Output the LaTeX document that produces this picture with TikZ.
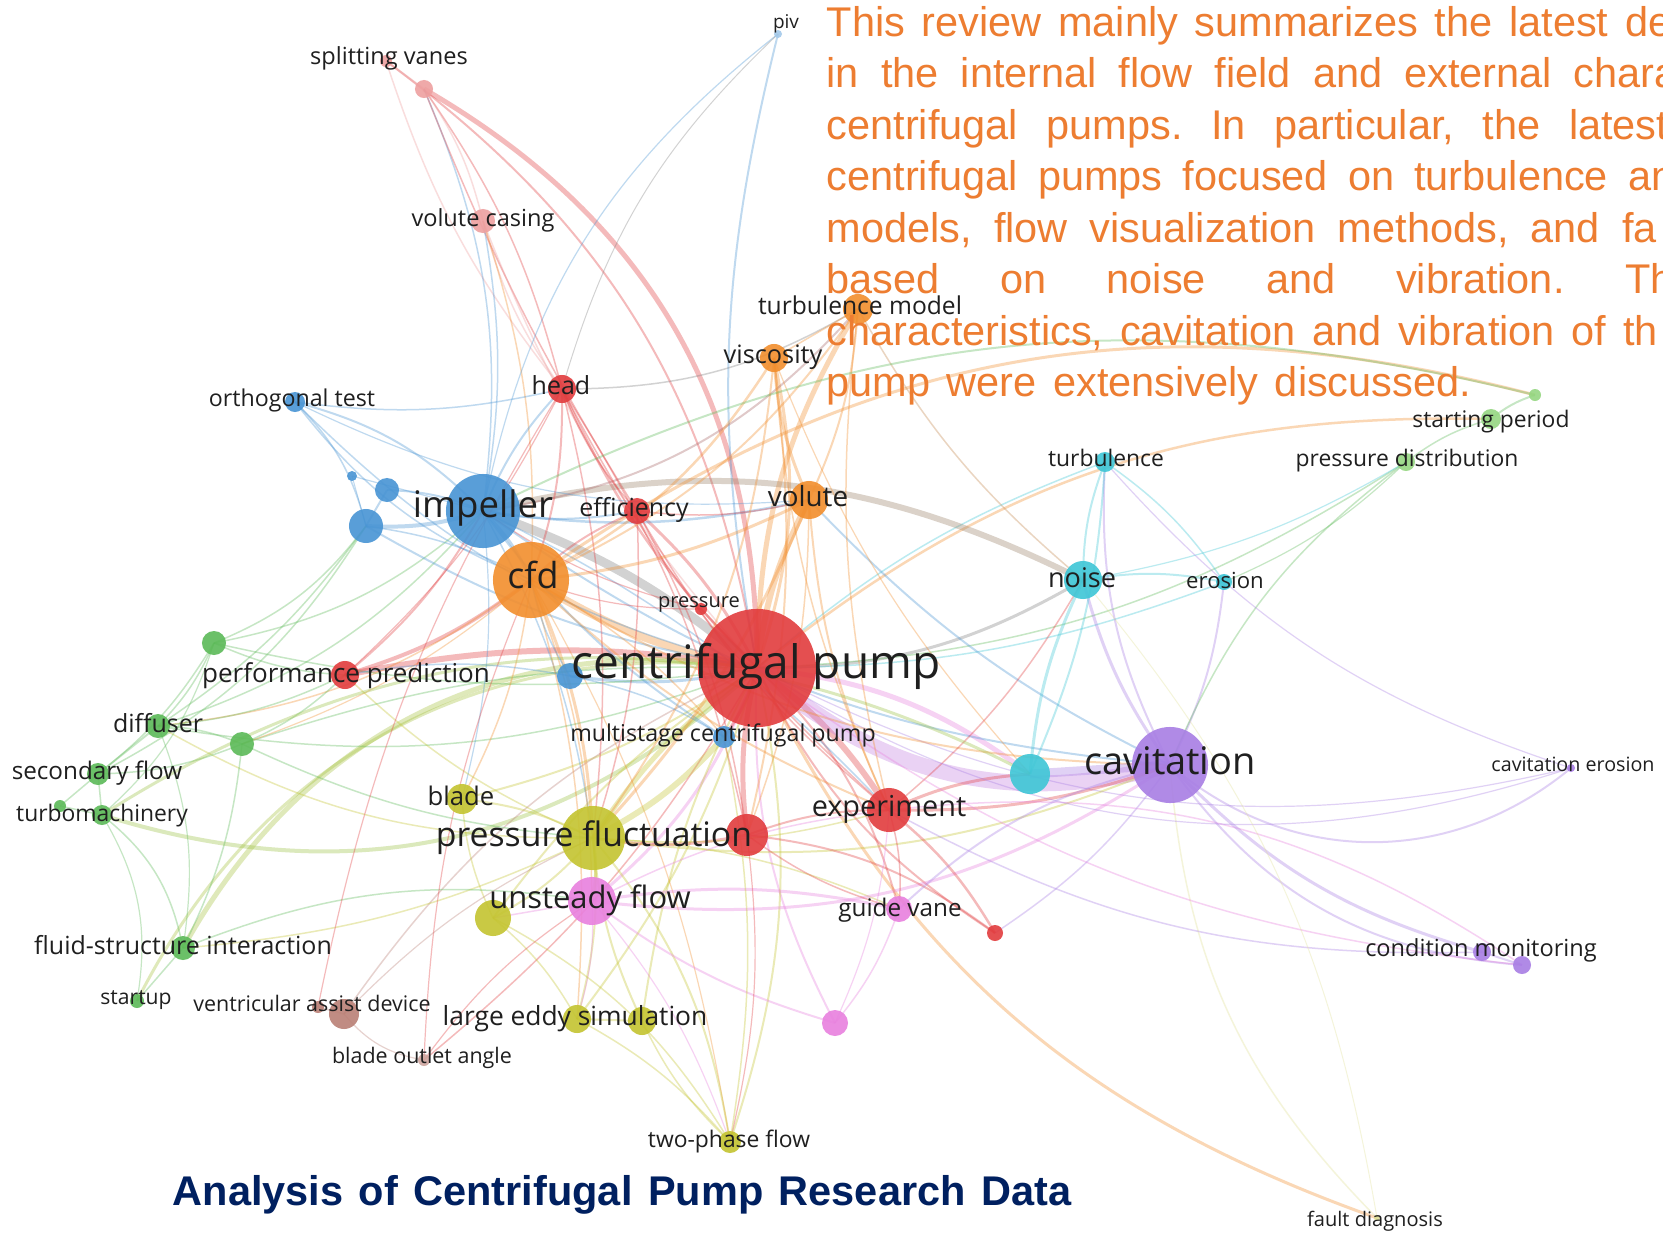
\documentclass[tikz,border=0pt]{standalone}
\usepackage{fontspec}
\setmainfont{Open Sans}
\newfontfamily\arialfam{Liberation Sans}

\pgfdeclarelayer{paper}
\pgfdeclarelayer{edges}
\pgfsetlayers{paper,edges,main}

\definecolor{kred}{RGB}{226,60,62}
\definecolor{kblue}{RGB}{72,148,212}
\definecolor{korange}{RGB}{242,142,45}
\definecolor{kgreen}{RGB}{92,186,88}
\definecolor{kyellow}{RGB}{196,196,48}
\definecolor{kpink}{RGB}{232,128,222}
\definecolor{kcyan}{RGB}{62,198,214}
\definecolor{kpurple}{RGB}{168,126,228}
\definecolor{krose}{RGB}{238,160,160}
\definecolor{kbrown}{RGB}{186,128,118}
\definecolor{klgreen}{RGB}{150,215,130}
\definecolor{textorange}{RGB}{237,125,49}
\definecolor{titleblue}{RGB}{0,32,96}

\tikzset{
	kwdot/.style 2 args={circle, inner sep=0pt, fill=#1, fill opacity=.9, minimum size=#2*0.02cm},
	kwlab/.style={anchor=base, inner sep=0pt, text=black!88, font=\fontsize{#1}{#1}\selectfont},
	absline/.style={anchor=base west, inner sep=0pt, text=textorange, font=\arialfam\fontsize{11.8}{14}\selectfont}
}

\begin{document}
\begin{tikzpicture}[x=0.01cm, y=-0.01cm]
	
	\begin{pgfonlayer}{paper}
		\fill[white] (0,0) rectangle (1663,1233);
	\end{pgfonlayer}
	\useasboundingbox (0,0) rectangle (1663,1233);
	\clip (0,0) rectangle (1663,1233);
	
	% keyword circles
	\node[kwdot={kred}{59}] (cp) at (757,668) {};
	\node[kwdot={kpurple}{38}] (cav) at (1170,765) {};
	\node[kwdot={kblue}{37}] (imp) at (483,511) {};
	\node[kwdot={korange}{38}] (cfd) at (531,580) {};
	\node[kwdot={kyellow}{32}] (pf) at (593,838) {};
	\node[kwdot={kpink}{24}] (uf) at (592,901) {};
	\node[kwdot={kred}{22}] (exp) at (889,810) {};
	\node[kwdot={kcyan}{19}] (nz) at (1083,580) {};
	\node[kwdot={kcyan}{20}] (cyn) at (1030,774) {};
	\node[kwdot={korange}{19}] (vol) at (809,500) {};
	\node[kwdot={korange}{14}] (vis) at (774,358) {};
	\node[kwdot={korange}{15}] (tm) at (858,309) {};
	\node[kwdot={kred}{14}] (hd) at (562,389) {};
	\node[kwdot={kred}{13}] (eff) at (637,511) {};
	\node[kwdot={kred}{6}] (prs) at (701,609) {};
	\node[kwdot={kred}{14}] (pp) at (345,675) {};
	\node[kwdot={kred}{21}] (rd1) at (747,835) {};
	\node[kwdot={kred}{8}] (rd2) at (995,933) {};
	\node[kwdot={kblue}{11}] (msp) at (724,737) {};
	\node[kwdot={kblue}{13}] (bu1) at (570,676) {};
	\node[kwdot={kblue}{17}] (bu2) at (366,526) {};
	\node[kwdot={kblue}{12}] (bu3) at (387,490) {};
	\node[kwdot={kblue}{5}] (bu4) at (352,476) {};
	\node[kwdot={kblue}{10}] (ot) at (295,402) {};
	\node[kwdot={kblue!50}{4}] (piv) at (778,34) {};
	\node[kwdot={krose}{6}] (sv) at (386,61) {};
	\node[kwdot={krose}{9}] (sv2) at (424,89) {};
	\node[kwdot={krose}{12}] (vc) at (483,221) {};
	\node[kwdot={kgreen}{12}] (gn1) at (214,643) {};
	\node[kwdot={kgreen}{12}] (dif) at (158,726) {};
	\node[kwdot={kgreen}{12}] (gn2) at (242,744) {};
	\node[kwdot={kgreen}{11}] (sf) at (98,774) {};
	\node[kwdot={kgreen}{10}] (tmc) at (102,815) {};
	\node[kwdot={kgreen}{6}] (gn3) at (60,806) {};
	\node[kwdot={kgreen}{12}] (fsi) at (183,948) {};
	\node[kwdot={kgreen}{7}] (su) at (137,1001) {};
	\node[kwdot={klgreen}{10}] (sp) at (1491,419) {};
	\node[kwdot={klgreen}{6}] (sp2) at (1535,395) {};
	\node[kwdot={klgreen}{9}] (pd) at (1406,462) {};
	\node[kwdot={kyellow}{15}] (blade) at (462,799) {};
	\node[kwdot={kyellow}{18}] (ye1) at (493,918) {};
	\node[kwdot={kyellow}{14}] (les1) at (577,1019) {};
	\node[kwdot={kyellow}{14}] (les2) at (642,1021) {};
	\node[kwdot={kyellow}{11}] (tpf) at (730,1142) {};
	\node[kwdot={kbrown}{15}] (vad) at (344,1014) {};
	\node[kwdot={kbrown}{6}] (vad2) at (318,1007) {};
	\node[kwdot={kbrown!70}{6}] (boa) at (424,1060) {};
	\node[kwdot={kpink}{13}] (gv) at (899,909) {};
	\node[kwdot={kpink}{13}] (pk1) at (835,1023) {};
	\node[kwdot={kcyan}{10}] (tb) at (1105,462) {};
	\node[kwdot={kcyan}{8}] (ero) at (1224,582) {};
	\node[kwdot={kpurple}{4}] (ce) at (1571,768) {};
	\node[kwdot={kpurple}{9}] (cm) at (1482,952) {};
	\node[kwdot={kpurple}{9}] (cm2) at (1522,965) {};
	\node[kwdot={kyellow!50}{3}] (fd) at (1377,1218) {};
	
	% links
	\begin{pgfonlayer}{edges}
		\clip (0,0) rectangle (1663,1233);
		\foreach \a/\b/\c/\w/\bb in {
			cp/sv2/kred/5/-30, cp/sv/kred/2/-22, sv2/hd/kred/1.5/10, sv/hd/krose/1.5/-10,
			sv2/vc/krose/1.5/10, sv/sv2/krose/2/0, sv2/imp/kblue/1.5/15, sv2/eff/kred/1.5/-5,
			vc/imp/kblue/1.5/10, vc/cp/krose/1.5/-10, vc/hd/krose/1.5/-10, vc/cfd/korange/1.5/10,
			piv/cp/kblue/2/-12, piv/imp/kblue/1.2/-20, piv/hd/gray/1/-15,
			cp/hd/kred/2.5/10, cp/eff/kred/3/-10, cp/prs/kred/2/0, cp/pp/kred/6/-10,
			cp/rd1/kred/5/-10, cp/exp/kred/6/10, cp/rd2/kred/2/-15, cp/gv/kred/2/15,
			cp/pk1/kpink/2/-15, cp/fd/korange/3/-22, cp/imp/gray/9/-10, cp/cfd/korange/8/10,
			cp/vol/korange/6/10, cp/vis/korange/3/-15, cp/tm/korange/5/15, cp/pf/kyellow/5/-10,
			cp/uf/kpink/3/15, cp/cav/kpurple!55!kpink/16/-28, cp/cyn/kpink/5/15, cp/nz/gray/3/-15,
			cp/msp/kred/3/10, cp/bu1/kblue/3/10, cp/fsi/kyellow!70!kgreen/5/-35,
			cp/su/kyellow!70!kgreen/3/-35, cp/tmc/kyellow!60!kgreen/4/30, cp/dif/kgreen/1.5/15,
			cp/gn1/kgreen/1.5/10, cp/gn2/kgreen/1.5/-10, cp/les1/kyellow/2/10, cp/les2/kyellow/2/-10,
			cp/tpf/kyellow/2/15, cp/blade/kyellow/2/10, cp/ye1/kyellow/2/-10, cp/ot/kblue/1.5/15,
			cp/tb/kcyan/1.5/10, cp/ero/kcyan/1.5/-10, cp/pd/kgreen/1.5/-15, cp/sp/korange/2.5/20,
			cp/boa/kred/1.5/10, cp/vad/kbrown/1.5/-15, cp/ce/kpurple/1.2/-20,
			imp/cfd/kblue/3/10, imp/bu2/kblue/4/10, imp/bu3/kblue/2/-10, imp/bu4/kblue/1.2/0,
			imp/ot/kblue/2/-15, imp/hd/kblue/2/10, imp/eff/kblue/2/-10, imp/vol/kblue/2.5/-10,
			imp/nz/brown!40!gray/6/20, imp/pp/kred/2/10, imp/gn1/kgreen/1.5/15, imp/dif/kgreen/1.5/15,
			imp/cav/kblue/2/-15, imp/exp/kblue/1.5/10, imp/pf/kblue/1.5/10, imp/blade/kblue/1.2/10,
			imp/msp/kblue/2/-10, imp/tm/kred!40!gray/2/-20,
			bu2/gn1/kgreen/1.5/15, bu2/dif/kgreen/1.5/10, bu2/sf/kgreen/1.5/15, bu2/bu3/kblue/2/0,
			bu2/bu4/kblue/1/0, bu2/cp/kblue/2/-10, bu2/cfd/kblue/1.5/10,
			ot/cfd/kblue/1.5/-15, ot/hd/kblue/1.5/-10, ot/bu2/kblue/1.5/15, ot/vol/kblue/1.2/-15,
			hd/cfd/kred/2/10, hd/eff/kred/1.5/-10, hd/pf/kred/1.5/10, hd/exp/kred/1.5/-10,
			hd/tm/gray/1.5/-15, hd/pp/kred/1.2/10, hd/rd1/kred/1.5/10,
			eff/cfd/kred/2/-10, eff/pf/kred/1.5/10, eff/vol/kred/1.5/-10, eff/exp/kred/1.5/-10,
			eff/rd1/kred/1.5/10,
			cfd/vol/korange/3/-10, cfd/vis/korange/2.5/-15, cfd/tm/korange/2/-15, cfd/pp/kred/4/10,
			cfd/pf/korange/3/10, cfd/uf/korange/1.5/10, cfd/blade/korange/1.5/10, cfd/les1/korange/1.5/10,
			cfd/tpf/korange/1.2/10, cfd/exp/korange/2/-10, cfd/cav/korange/2/-15, cfd/dif/korange/1.5/15,
			cfd/gn2/korange/1.2/10, cfd/sp2/korange/3/25, cfd/msp/korange/1.5/10,
			vol/vis/korange/3/10, vol/tm/korange/2/-10, vol/pf/korange/3/10, vol/exp/korange/2/-10,
			vol/cav/kblue/2/-10, vol/rd1/korange/1.5/10,
			vis/tm/korange/1.5/0, vis/pf/korange/2/15, vis/rd1/korange/2/10, vis/exp/korange/1.5/-10,
			vis/cyn/korange/1.2/-10, tm/exp/korange/1.5/-10, tm/nz/korange!60!gray/1.5/-10,
			pf/uf/kyellow/3/10, pf/blade/kyellow/2/-10, pf/ye1/kyellow/2/10, pf/les1/kyellow/2/10,
			pf/les2/kyellow/2/-10, pf/tpf/kyellow/2/15, pf/rd1/kred/3/-10, pf/msp/kyellow/6/-10,
			pf/exp/kyellow/1.5/-10, pf/gv/kyellow/1.5/10, pf/cav/kyellow/2/-15, pf/pp/kyellow/1.5/10,
			pf/fsi/kyellow/1.5/10, pf/dif/kyellow/1.5/15, pf/gn2/kgreen/1.5/10,
			uf/gv/kpink/3/10, uf/pk1/kpink/2/-10, uf/cav/kpink/3/-20, uf/exp/kpink/1.5/10,
			uf/ye1/kpink/1.5/0, uf/les1/kpink/1.2/10, uf/tpf/kpink/1.2/10,
			ye1/les1/kyellow/1.5/10, ye1/tpf/kyellow/1.5/15, ye1/blade/kyellow/1.5/10,
			les1/les2/kyellow/2/0, les1/tpf/kyellow/1.5/10, les2/tpf/kyellow/1.5/-10,
			rd1/exp/kred/2/10, rd1/rd2/kred/2/15, rd1/gv/kred/1.5/-10, rd1/tpf/kred/1.2/10,
			exp/cav/kred/3/-10, exp/cyn/kred/3/10, exp/rd2/kred/2.5/10, exp/gv/kred/1.5/10,
			exp/nz/kred/1.5/-10, exp/cm2/kpink/1.5/20,
			cav/cyn/kpurple/9/0, cav/nz/kpurple/3/10, cav/tb/kpurple/2/15, cav/ero/kpurple/2/-10,
			cav/cm/kpurple/3/-15, cav/cm2/kpurple/2/-25, cav/ce/kpurple/2/-40, cav/gv/kpurple/2/-15,
			cav/rd2/kpurple/1.5/10, cav/pd/kgreen/1.5/15, cav/fd/kyellow!50/1.5/-20,
			cyn/nz/kcyan/3/10, cyn/tb/kcyan/2/-10, nz/tb/kcyan/2/10, nz/ero/kcyan/2/10,
			nz/pd/kcyan/1.2/-10, tb/ero/kcyan/1.5/10,
			pd/sp/kgreen/1.5/10, pd/ero/kgreen/1.2/10, sp/sp2/kgreen/2/10, sp2/imp/kgreen/2/-20,
			ce/tb/kpurple/1.2/15, ce/cp/kpurple/1.2/25, cm/cm2/kpurple/2/0, cm2/cp/kpink/1.5/15,
			cm/exp/kpurple/1.5/15, fd/nz/kyellow!50/1/-15,
			gn1/dif/kgreen/1.5/10, gn1/pp/kgreen/1.5/-10, gn1/sf/kgreen/1.5/10, gn1/tmc/kgreen/1.2/15,
			dif/sf/kgreen/2/0, dif/gn2/kgreen/1.5/10, dif/pp/kgreen/1.5/-10, gn2/sf/kgreen/1.5/10,
			gn2/pp/kgreen/1.5/-10, sf/tmc/kgreen/1.5/0, sf/gn3/kgreen/1.5/0, tmc/gn3/kgreen/1.5/0,
			tmc/fsi/kgreen/1.5/20, tmc/cyn/kyellow!60!kgreen/3/30, fsi/su/kgreen/1.5/0,
			su/tmc/kgreen/1.2/-20, fsi/uf/kgreen/1.5/15, fsi/gn2/kgreen/1.5/-10, fsi/dif/kgreen/1.2/-15,
			vad/vad2/kbrown/1.5/0, vad/boa/kbrown/1.2/-20, vad/pf/kbrown/1.2/10, vad2/hd/kred/1.2/10,
			boa/cfd/kred/1.2/10, boa/uf/kred/1.2/10, tpf/msp/kyellow/1.5/-10,
			gv/pk1/kpink/1.5/10, pk1/exp/kpink/1.2/-10, msp/bu1/kblue/1.5/-10,
			bu1/cfd/kblue/1.5/10, bu1/pp/kblue/1.5/-10, prs/cfd/kred/1.2/10, prs/imp/kred/1.2/10}
		\draw[draw=\c, line width=\w*0.01cm, draw opacity=.35] (\a.center) to[bend left=\bb] (\b.center);
	\end{pgfonlayer}
	
	% keyword labels
	\node[kwlab=13.1] (cp-l) at (756,678) {centrifugal pump};
	\node[kwlab=10.8] (cav-l) at (1170,774) {cavitation};
	\node[kwlab=10.4] (imp-l) at (483,517) {impeller};
	\node[kwlab=10.2] (cfd-l) at (533,588) {cfd};
	\node[kwlab=9.6] (pf-l) at (594,846) {pressure fluctuation};
	\node[kwlab=8.8] (uf-l) at (590,908) {unsteady flow};
	\node[kwlab=8.2] (exp-l) at (889,816) {experiment};
	\node[kwlab=7.7] (nz-l) at (1082,587) {noise};
	\node[kwlab=7.9] (vol-l) at (808,506) {volute};
	\node[kwlab=7.1] (hd-l) at (561,394) {head};
	\node[kwlab=7.1] (eff-l) at (634,516) {efficiency};
	\node[kwlab=7.4] (pp-l) at (346,682) {performance prediction};
	\node[kwlab=7.3] (blade-l) at (461,805) {blade};
	\node[kwlab=6.9] (gv-l) at (900,916) {guide vane};
	\node[kwlab=7.5] (les-l) at (575,1025) {large eddy simulation};
	\node[kwlab=7.2] (vis-l) at (773,363) {viscosity};
	\node[kwlab=7.1] (dif-l) at (158,732) {diffuser};
	\node[kwlab=6.9] (sf-l) at (97,779) {secondary flow};
	\node[kwlab=6.5] (tmc-l) at (102,821) {turbomachinery};
	\node[kwlab=7.1] (fsi-l) at (183,954) {fluid-structure interaction};
	\node[kwlab=6.6] (ot-l) at (292,406) {orthogonal test};
	\node[kwlab=6.7] (vc-l) at (483,226) {volute casing};
	\node[kwlab=6.7] (sv-l) at (389,64) {splitting vanes};
	\node[kwlab=7.0] (tm-l) at (860,314) {turbulence model};
	\node[kwlab=6.5] (tb-l) at (1106,466) {turbulence};
	\node[kwlab=6.3] (ero-l) at (1225,588) {erosion};
	\node[kwlab=6.5] (pd-l) at (1407,466) {pressure distribution};
	\node[kwlab=6.5] (sp-l) at (1491,427) {starting period};
	\node[kwlab=5.6] (ce-l) at (1573,771) {cavitation erosion};
	\node[kwlab=6.7] (cm-l) at (1481,956) {condition monitoring};
	\node[kwlab=5.7] (fd-l) at (1375,1226) {fault diagnosis};
	\node[kwlab=6.6] (msp-l) at (723,741) {multistage centrifugal pump};
	\node[kwlab=5.7] (prs-l) at (699,607) {pressure};
	\node[kwlab=6.5] (tpf-l) at (729,1147) {two-phase flow};
	\node[kwlab=6.0] (su-l) at (136,1004) {startup};
	\node[kwlab=6.1] (vad-l) at (312,1011) {ventricular assist device};
	\node[kwlab=6.1] (boa-l) at (422,1063) {blade outlet angle};
	\node[kwlab=5.4] (piv-l) at (786,28) {piv};
	
	% abstract text
	\node[absline] (ab1) at (826,36) {\hbox to 7.98cm{This\hfil review\hfil mainly\hfil summarizes\hfil the\hfil latest\hfil}de};
	\node[absline] (ab2) at (826,87.5) {\hbox to 7.47cm{in\hfil the\hfil internal\hfil flow\hfil field\hfil and\hfil external\hfil}chara};
	\node[absline] (ab3) at (826,139) {\hbox to 7.42cm{centrifugal\hfil pumps.\hfil In\hfil particular,\hfil the\hfil}latest};
	\node[absline] (ab4) at (826,190.5) {\hbox to 8.01cm{centrifugal\hfil pumps\hfil focused\hfil on\hfil turbulence\hfil}an};
	\node[absline] (ab5) at (826,242) {\hbox to 7.95cm{models,\hfil flow\hfil visualization\hfil methods,\hfil and\hfil}fa};
	\node[absline] (ab6) at (826,293.5) {\hbox to 7.98cm{based\hfil on\hfil noise\hfil and\hfil vibration.\hfil}Th};
	\node[absline] (ab7) at (826,345) {\hbox to 7.96cm{characteristics,\hfil cavitation\hfil and\hfil vibration\hfil of\hfil}th};
	\node[absline] (ab8) at (826,396.5) {\hbox to 6.44cm{pump\hfil were\hfil extensively\hfil discussed.}};
	
	\node[anchor=base west, inner sep=0pt, text=titleblue, font=\arialfam\bfseries\fontsize{11.8}{14}\selectfont] (title) at (172,1205) {\makebox[8.98cm][s]{Analysis of Centrifugal Pump Research Data}};
	
\end{tikzpicture}
\end{document}
